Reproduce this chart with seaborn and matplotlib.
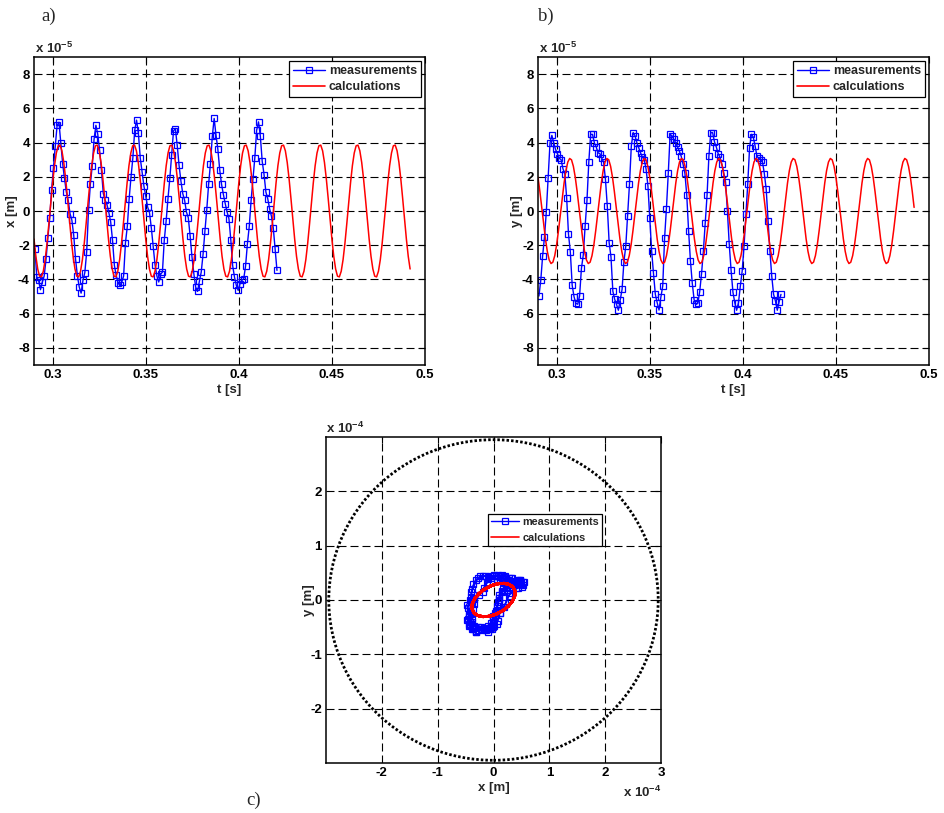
import numpy as np
import matplotlib
matplotlib.use("Agg")
import matplotlib.pyplot as plt
import seaborn as sns
from matplotlib.lines import Line2D
from matplotlib.patches import Circle

# ---------------- data (x, y in units of 1e-5 m) ----------------
t_meas_start, t_meas_end, n_meas = 0.2905, 0.4205, 132
x_meas = [-2.2, -3.86, -4.05, -4.6, -4.15, -3.8, -2.83, -1.58, -0.41, 1.21,
          2.52, 3.79, 5.0, 5.19, 4.0, 2.77, 1.9, 1.11, 0.63, -0.15,
          -0.54, -1.42, -2.83, -3.8, -4.45, -4.8, -4.05, -3.6, -2.4, 0.04,
          1.56, 2.63, 4.19, 5.01, 4.49, 3.55, 2.38, 1.02, 0.63, 0.37,
          -0.09, -0.64, -1.71, -3.18, -3.76, -4.21, -4.35, -4.15, -3.8, -1.85,
          -0.9, 0.73, 1.99, 3.1, 4.72, 5.31, 4.53, 3.1, 2.25, 1.45,
          0.86, 0.23, -0.1, -0.99, -2.07, -3.14, -3.8, -4.15, -3.7, -3.57,
          -1.71, -0.6, 0.72, 1.9, 3.26, 4.68, 4.82, 3.84, 2.67, 1.76,
          1.02, 0.63, -0.06, -0.39, -1.46, -2.69, -3.66, -4.45, -4.7, -4.11,
          -3.57, -2.53, -1.17, 0.08, 1.56, 2.77, 4.37, 5.41, 4.43, 3.61,
          2.42, 1.56, 0.96, 0.43, -0.06, -0.45, -1.67, -3.18, -3.86, -4.35,
          -4.64, -4.25, -4.05, -3.96, -3.22, -1.91, -0.9, 0.63, 1.85, 3.1,
          4.72, 5.21, 4.37, 2.91, 2.13, 1.11, 0.72, 0.14, -0.31, -0.99,
          -2.2, -3.47]
y_meas = [-4.97, -4.05, -2.63, -1.52, -0.04, 1.95, 3.99, 4.42, 3.99, 3.6,
          3.35, 3.08, 3.0, 2.47, 2.18, 0.78, -1.36, -2.4, -4.35, -5.01,
          -5.4, -5.45, -4.97, -3.35, -2.57, -0.88, 0.62, 2.88, 4.48, 4.48,
          3.99, 3.74, 3.4, 3.35, 3.08, 2.87, 1.85, 0.29, -1.85, -2.69,
          -4.68, -5.16, -5.46, -5.8, -5.2, -4.58, -2.96, -2.05, -0.29, 1.56,
          3.8, 4.58, 4.4, 3.99, 3.7, 3.4, 3.15, 3.0, 2.44, 1.46,
          -0.39, -2.34, -3.65, -4.87, -5.36, -5.79, -5.03, -4.39, -1.6, 0.14,
          2.2, 4.48, 4.4, 4.2, 3.99, 3.74, 3.5, 3.2, 2.73, 2.2,
          0.94, -1.17, -2.92, -4.23, -5.2, -5.46, -5.4, -4.72, -3.67, -2.34,
          -0.68, 0.94, 3.22, 4.58, 4.58, 4.05, 3.74, 3.35, 3.15, 2.73,
          2.24, 1.7, 0.0, -1.95, -3.47, -4.74, -5.36, -5.8, -5.36, -4.39,
          -3.51, -2.05, -0.19, 1.56, 3.7, 4.48, 4.32, 3.8, 3.2, 3.08,
          3.0, 2.85, 2.18, 1.27, -0.58, -2.34, -3.8, -4.87, -5.26, -5.8,
          -5.3, -4.87]

t_calc_start, t_calc_end, n_calc = 0.290, 0.492, 203
x_calc = [
    -1.64, -2.65, -3.39, -3.81, -3.85, -3.52, -2.84, -1.88, -0.74, 0.47, 1.64, 2.65, 3.39, 3.81, 3.85, 3.52, 2.84, 1.88, 0.74, -0.47,
    -1.64, -2.65, -3.39, -3.81, -3.85, -3.52, -2.84, -1.88, -0.74, 0.47, 1.64, 2.65, 3.39, 3.81, 3.85, 3.52, 2.84, 1.88, 0.74, -0.47,
    -1.64, -2.65, -3.39, -3.81, -3.85, -3.52, -2.84, -1.88, -0.74, 0.47, 1.64, 2.65, 3.39, 3.81, 3.85, 3.52, 2.84, 1.88, 0.74, -0.47,
    -1.64, -2.65, -3.39, -3.81, -3.85, -3.52, -2.84, -1.88, -0.74, 0.47, 1.64, 2.65, 3.39, 3.81, 3.85, 3.52, 2.84, 1.88, 0.74, -0.47,
    -1.64, -2.65, -3.39, -3.81, -3.85, -3.52, -2.84, -1.88, -0.74, 0.47, 1.64, 2.65, 3.39, 3.81, 3.85, 3.52, 2.84, 1.88, 0.74, -0.47,
    -1.64, -2.65, -3.39, -3.81, -3.85, -3.52, -2.84, -1.88, -0.74, 0.47, 1.64, 2.65, 3.39, 3.81, 3.85, 3.52, 2.84, 1.88, 0.74, -0.47,
    -1.64, -2.65, -3.39, -3.81, -3.85, -3.52, -2.84, -1.88, -0.74, 0.47, 1.64, 2.65, 3.39, 3.81, 3.85, 3.52, 2.84, 1.88, 0.74, -0.47,
    -1.64, -2.65, -3.39, -3.81, -3.85, -3.52, -2.84, -1.88, -0.74, 0.47, 1.64, 2.65, 3.39, 3.81, 3.85, 3.52, 2.84, 1.88, 0.74, -0.47,
    -1.64, -2.65, -3.39, -3.81, -3.85, -3.52, -2.84, -1.88, -0.74, 0.47, 1.64, 2.65, 3.39, 3.81, 3.85, 3.52, 2.84, 1.88, 0.74, -0.47,
    -1.64, -2.65, -3.39, -3.81, -3.85, -3.52, -2.84, -1.88, -0.74, 0.47, 1.64, 2.65, 3.39, 3.81, 3.85, 3.52, 2.84, 1.88, 0.74, -0.47,
    -1.64, -2.65, -3.39]
y_calc = [
    1.98, 1.15, 0.21, -0.75, -1.63, -2.36, -2.86, -3.07, -2.99, -2.61, -1.98, -1.15, -0.21, 0.75, 1.63, 2.36, 2.86, 3.07, 2.99, 2.61,
    1.98, 1.15, 0.21, -0.75, -1.63, -2.36, -2.86, -3.07, -2.99, -2.61, -1.98, -1.15, -0.21, 0.75, 1.63, 2.36, 2.86, 3.07, 2.99, 2.61,
    1.98, 1.15, 0.21, -0.75, -1.63, -2.36, -2.86, -3.07, -2.99, -2.61, -1.98, -1.15, -0.21, 0.75, 1.63, 2.36, 2.86, 3.07, 2.99, 2.61,
    1.98, 1.15, 0.21, -0.75, -1.63, -2.36, -2.86, -3.07, -2.99, -2.61, -1.98, -1.15, -0.21, 0.75, 1.63, 2.36, 2.86, 3.07, 2.99, 2.61,
    1.98, 1.15, 0.21, -0.75, -1.63, -2.36, -2.86, -3.07, -2.99, -2.61, -1.98, -1.15, -0.21, 0.75, 1.63, 2.36, 2.86, 3.07, 2.99, 2.61,
    1.98, 1.15, 0.21, -0.75, -1.63, -2.36, -2.86, -3.07, -2.99, -2.61, -1.98, -1.15, -0.21, 0.75, 1.63, 2.36, 2.86, 3.07, 2.99, 2.61,
    1.98, 1.15, 0.21, -0.75, -1.63, -2.36, -2.86, -3.07, -2.99, -2.61, -1.98, -1.15, -0.21, 0.75, 1.63, 2.36, 2.86, 3.07, 2.99, 2.61,
    1.98, 1.15, 0.21, -0.75, -1.63, -2.36, -2.86, -3.07, -2.99, -2.61, -1.98, -1.15, -0.21, 0.75, 1.63, 2.36, 2.86, 3.07, 2.99, 2.61,
    1.98, 1.15, 0.21, -0.75, -1.63, -2.36, -2.86, -3.07, -2.99, -2.61, -1.98, -1.15, -0.21, 0.75, 1.63, 2.36, 2.86, 3.07, 2.99, 2.61,
    1.98, 1.15, 0.21, -0.75, -1.63, -2.36, -2.86, -3.07, -2.99, -2.61, -1.98, -1.15, -0.21, 0.75, 1.63, 2.36, 2.86, 3.07, 2.99, 2.61,
    1.98, 1.15, 0.21]

clearance_radius = 2.95  # units of 1e-4 m

t_ticks = [0.3, 0.35, 0.4, 0.45, 0.5]
t_ticklabels = ["0.3", "0.35", "0.4", "0.45", "0.5"]
disp_ticks = [-8, -6, -4, -2, 0, 2, 4, 6, 8]
orbit_xticks = [-2, -1, 0, 1, 2, 3]
orbit_yticks = [-2, -1, 0, 1, 2]
legend_labels = ["measurements", "calculations"]

t_meas = np.linspace(t_meas_start, t_meas_end, n_meas)
t_calc = np.linspace(t_calc_start, t_calc_end, n_calc)

# ---------------- style ----------------
sns.set_style("white")
plt.rcParams["font.family"] = ["Liberation Sans", "DejaVu Sans"]
plt.rcParams["font.weight"] = "bold"
plt.rcParams["axes.unicode_minus"] = False
plt.rcParams["mathtext.fontset"] = "custom"
plt.rcParams["mathtext.rm"] = "Liberation Sans:bold"
plt.rcParams["mathtext.it"] = "Liberation Sans:bold"
plt.rcParams["mathtext.bf"] = "Liberation Sans:bold"

W, H = 944, 813
fig = plt.figure(figsize=(W / 100, H / 100), dpi=100)

def fax(l, t, r, b):
    return fig.add_axes([l / W, 1 - b / H, (r - l) / W, (b - t) / H])

BLUE = (0, 0, 1)
RED = (1, 0, 0)
FS = 9.5
LFS = 9.0
grid_kw = dict(color="black", lw=0.8, ls=(0, (7.2, 3.6)), zorder=0.5)

meas_kw = dict(color=BLUE, lw=1.0, marker="s", markersize=4.2, markerfacecolor="none",
               markeredgecolor=BLUE, markeredgewidth=0.9, estimator=None, sort=False)

def style_axes(ax):
    for s in ax.spines.values():
        s.set_linewidth(1.1)
        s.set_color("black")
    ax.tick_params(direction="in", top=True, right=True, length=4, width=0.8,
                   labelsize=FS, pad=3, colors="black")
    for lab in ax.get_xticklabels() + ax.get_yticklabels():
        lab.set_fontweight("bold")

def make_legend(ax, fontsize, labelspacing, **kw):
    handles = [Line2D([], [], color=BLUE, lw=1.0, marker="s", markersize=4.2,
                      markerfacecolor="none", markeredgecolor=BLUE, markeredgewidth=0.9),
               Line2D([], [], color=RED, lw=1.2)]
    leg = ax.legend(handles, legend_labels, fancybox=False, framealpha=1,
                    edgecolor="black", handlelength=2.6, handletextpad=0.3,
                    borderpad=0.3, labelspacing=labelspacing,
                    prop={"size": fontsize, "weight": "bold"}, **kw)
    leg.get_frame().set_linewidth(0.9)
    return leg

# ---------------- top panels ----------------
panels = [
    (fax(34, 57, 425, 365), x_meas, x_calc, "x [m]", 12),
    (fax(538, 57, 929, 365), y_meas, y_calc, "y [m]", 517),
]
for ax, meas, calc, ylab, ylab_x in panels:
    for v in t_ticks[:-1]:
        ax.axvline(v, **grid_kw)
    for v in disp_ticks:
        ax.axhline(v, **grid_kw)
    sns.lineplot(x=t_meas, y=meas, ax=ax, **meas_kw)
    sns.lineplot(x=t_calc, y=calc, ax=ax, color=RED, lw=1.1, estimator=None, sort=False)
    ax.set_xlim(0.29, 0.5)
    ax.set_ylim(-9, 9)
    ax.set_xticks(t_ticks)
    ax.set_xticklabels(t_ticklabels)
    ax.set_yticks(disp_ticks)
    ax.set_yticklabels([str(v) for v in disp_ticks])
    ax.set_xlabel("t [s]", fontsize=FS, fontweight="bold")
    ax.xaxis.set_label_coords(0.5, (365 - 390) / 308)
    ax.xaxis.label.set_va("center")
    ax.set_ylabel(ylab, fontsize=FS, fontweight="bold")
    x0 = ax.get_position().x0 * W
    ax.yaxis.set_label_coords((ylab_x - x0) / 391, 0.5)
    ax.yaxis.label.set_va("center")
    ax.text(0.003, 1.012, r"x 10$^{-5}$", transform=ax.transAxes, ha="left", va="baseline",
            fontsize=FS, fontweight="bold")
    style_axes(ax)
    make_legend(ax, LFS, 0.35, loc="upper right", borderaxespad=0.35)

# ---------------- orbit panel ----------------
ax3 = fax(326, 437, 661, 763)
for v in orbit_xticks[:-1]:
    ax3.axvline(v, **grid_kw)
for v in orbit_yticks:
    ax3.axhline(v, **grid_kw)
ax3.add_patch(Circle((0, 0), clearance_radius, fill=False, edgecolor="black",
                     lw=2.0, ls=(0, (0.9, 0.75)), zorder=2))
sns.lineplot(x=np.array(x_meas) / 10, y=np.array(y_meas) / 10, ax=ax3, **meas_kw)
sns.lineplot(x=np.array(x_calc) / 10, y=np.array(y_calc) / 10, ax=ax3, color=RED, lw=2.0,
             estimator=None, sort=False)
ax3.set_xlim(-3, 3)
ax3.set_ylim(-3, 3)
ax3.set_xticks(orbit_xticks)
ax3.set_xticklabels([str(v) for v in orbit_xticks])
ax3.set_yticks(orbit_yticks)
ax3.set_yticklabels([str(v) for v in orbit_yticks])
ax3.set_xlabel("x [m]", fontsize=FS, fontweight="bold")
ax3.xaxis.set_label_coords(0.5, (763 - 788) / 326)
ax3.xaxis.label.set_va("center")
ax3.set_ylabel("y [m]", fontsize=FS, fontweight="bold")
ax3.yaxis.set_label_coords((309 - 326) / 335, 0.5)
ax3.yaxis.label.set_va("center")
ax3.text(0.0, 1.012, r"x 10$^{-4}$", transform=ax3.transAxes, ha="left", va="baseline",
         fontsize=FS, fontweight="bold")
ax3.text(1.0, (763 - 797) / 326, r"x 10$^{-4}$", transform=ax3.transAxes, ha="right",
         va="baseline", fontsize=FS, fontweight="bold")
style_axes(ax3)
make_legend(ax3, 7.8, 0.55, loc="upper left", bbox_to_anchor=(0.483, 0.764), borderaxespad=0.0)

# ---------------- panel letters ----------------
for s, px, py in [("a)", 49, 16), ("b)", 546, 16), ("c)", 254, 800)]:
    fig.text(px / W, 1 - py / H, s, ha="center", va="center", fontsize=13.5,
             family=["Liberation Serif", "DejaVu Serif"], fontweight="normal")

fig.savefig("out.png", dpi=100)
